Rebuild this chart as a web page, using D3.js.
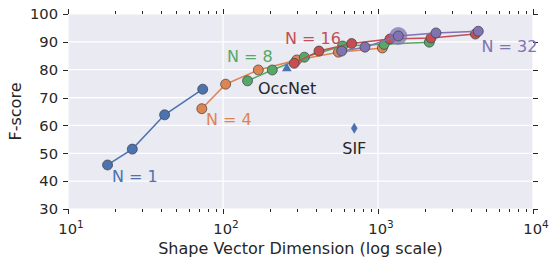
<!DOCTYPE html>
<meta charset="utf-8">
<style>
body { margin: 0; background: #fff; }
text { font-family: "DejaVu Sans", sans-serif; fill: #262626; }
</style>
<svg id="chart" width="554" height="266"></svg>
<script src="https://d3js.org/d3.v7.min.js"></script>
<script>
// ********** DATA **********
var seriesNames = ["N = 1", "N = 4", "N = 8", "N = 16", "N = 32"];
var seriesColors = ["#4c72b0", "#dd8452", "#55a868", "#c44e52", "#8172b3"];

var dimN1 = [18, 26, 42, 74];
var scoreN1 = [45.8, 51.5, 63.8, 73.0];
var dimN4 = [73, 104, 169, 299, 555, 1067];
var scoreN4 = [66.0, 74.8, 79.9, 83.5, 86.3, 87.8];
var dimN8 = [144, 208, 335, 591, 1094, 2143];
var scoreN8 = [76.0, 79.9, 84.5, 88.5, 89.1, 89.9];
var dimN16 = [288, 416, 676, 1194, 2198, 4250];
var scoreN16 = [82.3, 86.7, 89.4, 91.0, 91.4, 92.8];
var dimN32 = [583, 824, 1352, 2366, 4436];
var scoreN32 = [86.7, 88.1, 92.1, 93.2, 93.8];

// highlighted point (big translucent marker)
var highlight = { dim: 1352, score: 92.1 };

// labels of the series (data coords of the text start / baseline)
var labelDims = [19.2, 77.7, 106, 251, 4656];
var labelScores = [39.8, 60.2, 82.8, 89.2, 86.4];

// other methods
var occNet = { dim: 258, score: 80.3, label: "OccNet", ldim: 168, lscore: 71.3 };
var sif = { dim: 703, score: 59.0, label: "SIF", ldim: 703, lscore: 49.8 };

var yTicks = [30, 40, 50, 60, 70, 80, 90, 100];
var xMajor = [10, 100, 1000, 10000];
var xExp = ["1", "2", "3", "4"];

// ********** D3 HAPPENS HERE **********
var dims = [dimN1, dimN4, dimN8, dimN16, dimN32];
var scores = [scoreN1, scoreN4, scoreN8, scoreN16, scoreN32];

var pL = 68, pR = 533, pT = 14, pB = 209;
var svg = d3.select("#chart");

var x = d3.scaleLog().domain([10, 10000]).range([pL, pR]);
var y = d3.scaleLinear().domain([30, 100]).range([pB, pT]);

svg.append("rect")
  .attr("x", pL).attr("y", pT)
  .attr("width", pR - pL).attr("height", pB - pT)
  .attr("fill", "#eaeaf2");

// grid
svg.append("g").selectAll("line").data(yTicks).enter().append("line")
  .attr("x1", pL).attr("x2", pR)
  .attr("y1", function (d) { return y(d); }).attr("y2", function (d) { return y(d); })
  .attr("stroke", "#fff").attr("stroke-width", 1.2);
svg.append("g").selectAll("line").data(xMajor).enter().append("line")
  .attr("y1", pT).attr("y2", pB)
  .attr("x1", function (d) { return x(d); }).attr("x2", function (d) { return x(d); })
  .attr("stroke", "#fff").attr("stroke-width", 1.2);

// ticks
var minor = [];
for (var e = 10; e < 10000; e *= 10) {
  for (var k = 2; k < 10; k++) minor.push(e * k);
}
var tickG = svg.append("g").attr("stroke", "#262626").attr("stroke-width", 1);
[pB, pT].forEach(function (edge) {
  var dir = edge == pB ? 1 : -1;
  tickG.selectAll(null).data(minor).enter().append("line")
    .attr("x1", function (d) { return Math.round(x(d)) + 0.5; })
    .attr("x2", function (d) { return Math.round(x(d)) + 0.5; })
    .attr("y1", edge).attr("y2", edge + dir * 3);
  tickG.selectAll(null).data(xMajor).enter().append("line")
    .attr("x1", function (d) { return Math.round(x(d)) + 0.5; })
    .attr("x2", function (d) { return Math.round(x(d)) + 0.5; })
    .attr("y1", edge).attr("y2", edge + dir * 5);
});
[pL, pR].forEach(function (edge) {
  var dir = edge == pL ? -1 : 1;
  tickG.selectAll(null).data(yTicks).enter().append("line")
    .attr("y1", function (d) { return Math.round(y(d)) + 0.5; })
    .attr("y2", function (d) { return Math.round(y(d)) + 0.5; })
    .attr("x1", edge).attr("x2", edge + dir * 5);
});

// tick labels
svg.append("g").selectAll("text").data(yTicks).enter().append("text")
  .attr("x", pL - 10).attr("y", function (d) { return y(d); })
  .attr("dy", "0.36em").attr("text-anchor", "end")
  .style("font-size", "14.7px").text(function (d) { return d; });

var xl = svg.append("g").selectAll("text").data(xMajor).enter().append("text")
  .attr("x", function (d) { return x(d) + 3; }).attr("y", 234)
  .attr("text-anchor", "middle").style("font-size", "14.7px");
xl.append("tspan").text("10");
xl.append("tspan").attr("dy", -6.5).style("font-size", "10.5px")
  .text(function (d, i) { return xExp[i]; });

// axis labels
svg.append("text").attr("x", (pL + pR) / 2).attr("y", 254)
  .attr("text-anchor", "middle").style("font-size", "16px")
  .text("Shape Vector Dimension (log scale)");
svg.append("text")
  .attr("transform", "translate(21," + (pT + pB) / 2 + ")rotate(-90)")
  .attr("text-anchor", "middle").style("font-size", "16px")
  .text("F-score");

// series
var line = d3.line()
  .x(function (d) { return x(d[0]); })
  .y(function (d) { return y(d[1]); });

dims.forEach(function (ds, i) {
  var pts = ds.map(function (d, j) { return [d, scores[i][j]]; });
  svg.append("path").datum(pts)
    .attr("d", line).attr("fill", "none")
    .attr("stroke", seriesColors[i]).attr("stroke-width", 1.5);
  if (i == 4) {
    svg.append("circle")
      .attr("cx", x(highlight.dim)).attr("cy", y(highlight.score)).attr("r", 9)
      .attr("fill", seriesColors[i]).attr("fill-opacity", 0.75);
  }
  svg.append("g").selectAll("circle").data(pts).enter().append("circle")
    .attr("cx", function (d) { return x(d[0]); })
    .attr("cy", function (d) { return y(d[1]); })
    .attr("r", 5)
    .attr("fill", seriesColors[i])
    .attr("stroke", "#404040").attr("stroke-opacity", 0.8).attr("stroke-width", 0.9);
  svg.append("text")
    .attr("x", x(labelDims[i])).attr("y", y(labelScores[i]))
    .style("font-size", "16px").style("fill", seriesColors[i])
    .text(seriesNames[i]);
});

// other methods
var tri = d3.symbol().type(d3.symbolTriangle).size(40);
svg.append("path").attr("d", tri)
  .attr("transform", "translate(" + x(occNet.dim) + "," + (y(occNet.score) - 0.5) + ")")
  .attr("fill", seriesColors[0]);
svg.append("text").attr("x", x(occNet.ldim)).attr("y", y(occNet.lscore))
  .style("font-size", "16px").text(occNet.label);

svg.append("path").attr("d", "M0,-5.5L3.3,0L0,5.5L-3.3,0Z")
  .attr("transform", "translate(" + x(sif.dim) + "," + y(sif.score) + ")")
  .attr("fill", seriesColors[0]);
svg.append("text").attr("x", x(sif.ldim)).attr("y", y(sif.lscore))
  .attr("text-anchor", "middle")
  .style("font-size", "16px").text(sif.label);
</script>
